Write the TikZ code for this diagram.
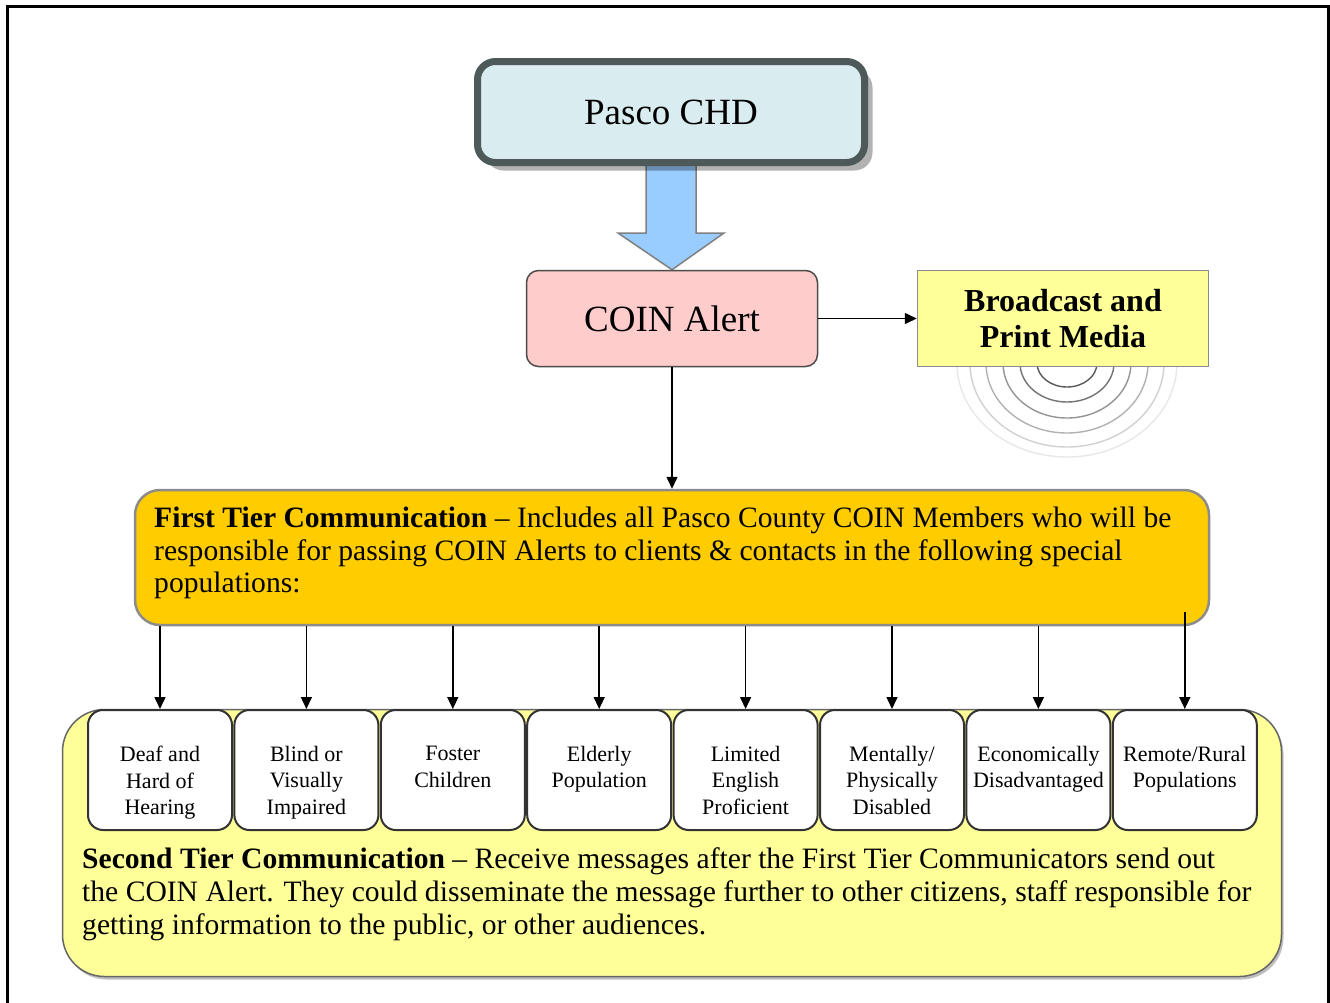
\documentclass[tikz,border=0pt]{standalone}
\usepackage{fontspec}
\setmainfont{Liberation Serif}
\usetikzlibrary{shadows,arrows.meta,backgrounds,calc}
\definecolor{pascofill}{HTML}{D9ECEF}
\definecolor{pascoline}{HTML}{4E5A5A}
\definecolor{arrowblue}{HTML}{99CCFF}
\definecolor{coinfill}{HTML}{FFCCCC}
\definecolor{paleyellow}{HTML}{FFFF99}
\definecolor{goldfill}{HTML}{FFCC00}
\tikzset{
  pascobox/.style={draw=pascoline, line width=7pt, fill=pascofill, rounded corners=18pt,
    minimum width=387pt, minimum height=101pt, inner sep=0pt,
    drop shadow={shadow xshift=8pt, shadow yshift=-8pt, fill=black, opacity=0.3},
    font=\fontsize{37}{40}\selectfont},
  coinbox/.style={draw=black!70, line width=1.5pt, fill=coinfill, rounded corners=12pt,
    minimum width=291pt, minimum height=96pt, inner sep=0pt, font=\fontsize{37}{40}\selectfont},
  mediabox/.style={draw=black!45, line width=1.5pt, fill=paleyellow,
    minimum width=291pt, minimum height=96pt, inner sep=0pt, align=center,
    font=\bfseries\fontsize{32}{36}\selectfont},
  firsttier/.style={draw=black!45, line width=2.5pt, fill=goldfill, rounded corners=25pt,
    minimum width=1074pt, minimum height=135pt, inner sep=0pt},
  secondtier/.style={draw=black!60, line width=1.5pt, fill=paleyellow, rounded corners=42pt,
    minimum width=1219pt, minimum height=267pt, inner sep=0pt,
    drop shadow={shadow xshift=2pt, shadow yshift=-3pt, fill=black, opacity=0.25}},
  popbox/.style={draw=black!80, line width=2pt, fill=white, rounded corners=15pt,
    minimum width=144pt, minimum height=120pt, inner sep=0pt},
  poplabel/.style={anchor=north, align=center, inner sep=0pt, yshift=-37pt,
    font=\fontsize{22}{26.5}\selectfont},
  bodytext/.style={anchor=north west, align=left, inner sep=0pt,
    font=\fontsize{29.6}{32.8}\selectfont},
  conn/.style={draw=black, line width=1.5pt, -{Triangle[length=12pt,width=11pt]}},
  blockarrow/.style={draw=black!50, line width=1.5pt, fill=arrowblue, line join=miter}
}
\begin{document}
\begin{tikzpicture}[x=1pt,y=-1pt]
\useasboundingbox (0,0) rectangle (1330,1002);
\begin{scope}[on background layer]
  \fill[white] (0,0) rectangle (1330,1002);
\end{scope}
\draw[line width=3pt] (7,6) rectangle (1328,1030);

% radiating arcs under the media box
\begin{scope}
  \clip (900,366) rectangle (1240,480);
  \foreach \rx/\ry/\c in {30/24/65, 47/39/55, 64/55/42, 81/70/30, 97/84/18, 110/94/9}
    \draw[black!\c, line width=1.4pt] (1067,363) ellipse [x radius=\rx, y radius=\ry];
\end{scope}

% main nodes
\node[pascobox] (pasco) at (671,112) {Pasco CHD};
\node[coinbox] (coin) at (672,318.5) {COIN Alert};
\node[mediabox] (media) at (1063,318.5) {Broadcast and\\Print Media};

% block arrow from Pasco CHD to COIN Alert
\begin{scope}[on background layer]
  \draw[blockarrow]
    ($(pasco.south)+(-25,-2)$) -- ($(pasco.south)+(25,-2)$) --
    ($(pasco.south)+(25,67)$) -- ($(pasco.south)+(53,67)$) --
    (coin.north) -- ($(pasco.south)+(-53,67)$) --
    ($(pasco.south)+(-25,67)$) -- cycle;
\end{scope}

\node[firsttier] (ft) at (672,557.5) {};
\node[bodytext] (fttext) at (154,506.5)
  {\textbf{First Tier Communication} – Includes all Pasco County COIN Members who will be\\
   responsible for passing COIN Alerts to clients \& contacts in the following special\\
   populations:};

\draw[conn] (coin.east) -- (media.west);
\draw[conn] (coin.south) -- (ft.north -| coin.south);

% second tier container
\node[secondtier] (st) at (672,843) {};

% population boxes
\node[popbox, label={[poplabel]north:{Deaf and\\Hard of\\Hearing}}] (p1) at (160,770) {};
\node[popbox, label={[poplabel]north:{Blind or\\Visually\\Impaired}}] (p2) at (306.4,770) {};
\node[popbox, label={[poplabel]north:{Foster\\Children}}] (p3) at (452.8,770) {};
\node[popbox, label={[poplabel]north:{Elderly\\Population}}] (p4) at (599.2,770) {};
\node[popbox, label={[poplabel]north:{Limited\\English\\Proficient}}] (p5) at (745.6,770) {};
\node[popbox, label={[poplabel]north:{Mentally/\\Physically\\Disabled}}] (p6) at (892,770) {};
\node[popbox, label={[poplabel]north:{Economically\\Disadvantaged}}] (p7) at (1038.4,770) {};
\node[popbox, label={[poplabel]north:{Remote/Rural\\Populations}}] (p8) at (1184.8,770) {};

\foreach \i in {1,...,7}
  \draw[conn] (ft.south -| p\i.north) -- (p\i.north);
\coordinate (s8) at (1184.8,612);
\draw[conn] (s8) -- (p8.north);

\node[bodytext] (sttext) at (82,847.5)
  {\textbf{Second Tier Communication} – Receive messages after the First Tier Communicators send out\\
   the COIN Alert. They could disseminate the message further to other citizens, staff responsible for\\
   getting information to the public, or other audiences.};
\end{tikzpicture}
\end{document}
